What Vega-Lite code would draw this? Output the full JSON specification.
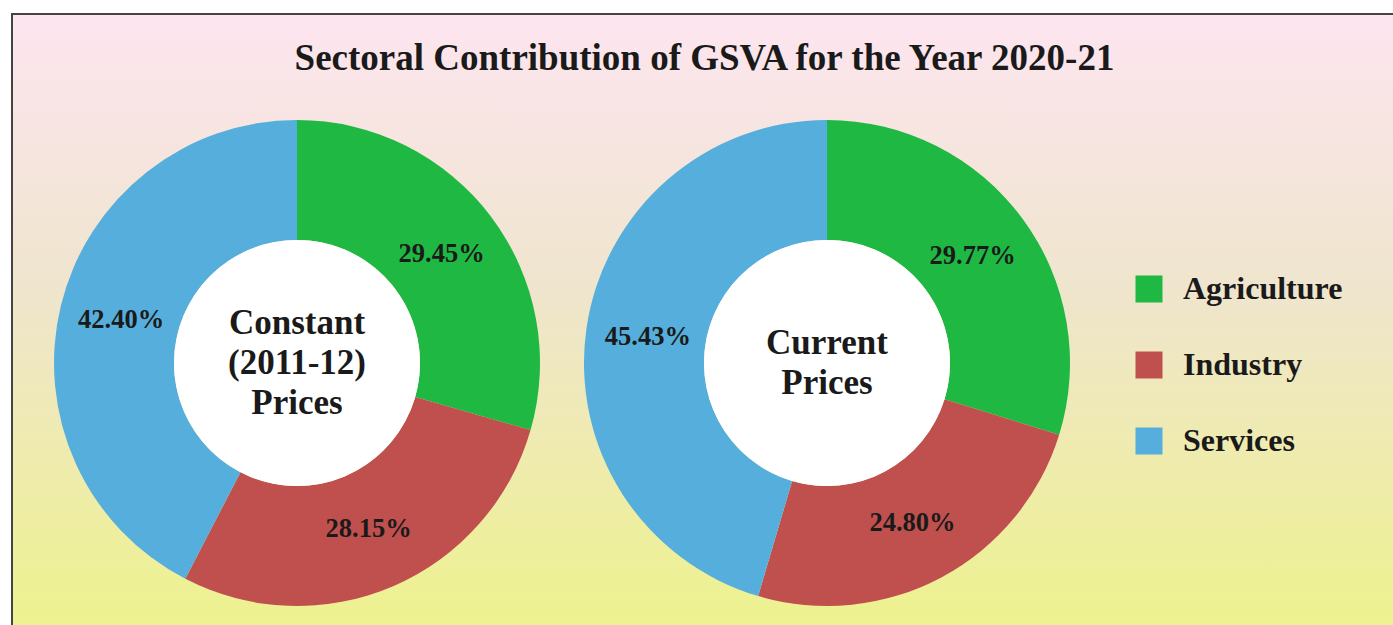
{
  "$schema": "https://vega.github.io/schema/vega-lite/v6.json",
  "autosize": {"type": "none"},
  "padding": {"left": 12, "top": 14, "right": -4, "bottom": -4},
  "width": 1385,
  "height": 615,
  "background": "#ffffff",
  "title": {
    "text": "Sectoral Contribution of GSVA for the Year 2020-21",
    "font": "Liberation Serif",
    "fontWeight": "bold",
    "fontSize": 37,
    "color": "#1a1a1a",
    "anchor": "middle",
    "frame": "group",
    "offset": -64
  },
  "datasets": {
    "sectors": [
      {"panel": "Constant", "sector": "Agriculture", "ord": 1, "share": 0.2945},
      {"panel": "Constant", "sector": "Industry", "ord": 2, "share": 0.2815},
      {"panel": "Constant", "sector": "Services", "ord": 3, "share": 0.4240},
      {"panel": "Current", "sector": "Agriculture", "ord": 1, "share": 0.2977},
      {"panel": "Current", "sector": "Industry", "ord": 2, "share": 0.2480},
      {"panel": "Current", "sector": "Services", "ord": 3, "share": 0.4543}
    ],
    "panels": [
      {"panel": "Constant", "label": "Constant\n(2011-12)\nPrices"},
      {"panel": "Current", "label": "Current\nPrices"}
    ]
  },
  "encoding": {
    "x": {"field": "panel", "type": "nominal", "axis": null, "scale": {"type": "point", "domain": ["Constant", "Current"], "range": [285, 815], "padding": 0}},
    "y": {"field": "panel", "type": "nominal", "axis": null, "scale": {"type": "point", "domain": ["Constant", "Current"], "range": [349, 349], "padding": 0}}
  },
  "layer": [
    {
      "data": {"name": "sectors"},
      "transform": [{"filter": "datum.panel === 'Constant'"}],
      "mark": {"type": "arc", "radius": 243, "radius2": 123, "stroke": null},
      "encoding": {
        "theta": {"field": "share", "type": "quantitative", "stack": true, "scale": {"domain": [0, 1]}},
        "order": {"field": "ord", "type": "quantitative"},
        "color": {"field": "sector", "type": "nominal", "title": null,
          "scale": {"domain": ["Agriculture", "Industry", "Services"], "range": ["#1fb843", "#c0504d", "#55aedb"]}}
      }
    },
    {
      "data": {"name": "sectors"},
      "transform": [{"filter": "datum.panel === 'Constant'"}],
      "mark": {"type": "text", "radius": 181, "font": "Liberation Serif", "fontWeight": "bold", "fontSize": 26.5, "color": "#1a1a1a", "align": "center", "baseline": "middle"},
      "encoding": {
        "theta": {"field": "share", "type": "quantitative", "stack": true, "scale": {"domain": [0, 1]}},
        "order": {"field": "ord", "type": "quantitative"},
        "text": {"field": "share", "type": "quantitative", "format": ".2%"}
      }
    },
    {
      "data": {"name": "sectors"},
      "transform": [{"filter": "datum.panel === 'Current'"}],
      "mark": {"type": "arc", "radius": 243, "radius2": 123, "stroke": null},
      "encoding": {
        "theta": {"field": "share", "type": "quantitative", "stack": true, "scale": {"domain": [0, 1]}},
        "order": {"field": "ord", "type": "quantitative"},
        "color": {"field": "sector", "type": "nominal", "title": null,
          "scale": {"domain": ["Agriculture", "Industry", "Services"], "range": ["#1fb843", "#c0504d", "#55aedb"]}}
      }
    },
    {
      "data": {"name": "sectors"},
      "transform": [{"filter": "datum.panel === 'Current'"}],
      "mark": {"type": "text", "radius": 181, "font": "Liberation Serif", "fontWeight": "bold", "fontSize": 26.5, "color": "#1a1a1a", "align": "center", "baseline": "middle"},
      "encoding": {
        "theta": {"field": "share", "type": "quantitative", "stack": true, "scale": {"domain": [0, 1]}},
        "order": {"field": "ord", "type": "quantitative"},
        "text": {"field": "share", "type": "quantitative", "format": ".2%"}
      }
    },
    {
      "data": {"name": "panels"},
      "mark": {"type": "arc", "radius": 123, "fill": "#ffffff", "stroke": null},
      "encoding": {}
    },
    {
      "data": {"name": "panels"},
      "transform": [{"filter": "datum.panel === 'Constant'"}],
      "mark": {"type": "text", "font": "Liberation Serif", "fontWeight": "bold", "fontSize": 35, "lineHeight": 40, "lineBreak": "\n", "color": "#1a1a1a", "align": "center", "baseline": "middle", "dy": -40},
      "encoding": {
        "text": {"field": "label", "type": "nominal"}
      }
    },
    {
      "data": {"name": "panels"},
      "transform": [{"filter": "datum.panel === 'Current'"}],
      "mark": {"type": "text", "font": "Liberation Serif", "fontWeight": "bold", "fontSize": 35, "lineHeight": 40, "lineBreak": "\n", "color": "#1a1a1a", "align": "center", "baseline": "middle", "dy": -20},
      "encoding": {
        "text": {"field": "label", "type": "nominal"}
      }
    }
  ],
  "config": {
    "view": {
      "stroke": "#444444",
      "strokeWidth": 2,
      "fill": {
        "gradient": "linear", "x1": 0, "y1": 0, "x2": 0, "y2": 1,
        "stops": [
          {"offset": 0, "color": "#fde5f0"},
          {"offset": 0.45, "color": "#efe5cd"},
          {"offset": 1, "color": "#eef28e"}
        ]
      }
    },
    "legend": {
      "orient": "none",
      "legendX": 1121,
      "legendY": 259,
      "symbolType": "square",
      "symbolSize": 729,
      "symbolStrokeWidth": 0,
      "symbolOpacity": 1,
      "labelFont": "Liberation Serif",
      "labelFontWeight": "bold",
      "labelFontSize": 32,
      "labelColor": "#1a1a1a",
      "labelOffset": 18,
      "rowPadding": 44,
      "padding": 0,
      "labelLimit": 400
    }
  }
}
